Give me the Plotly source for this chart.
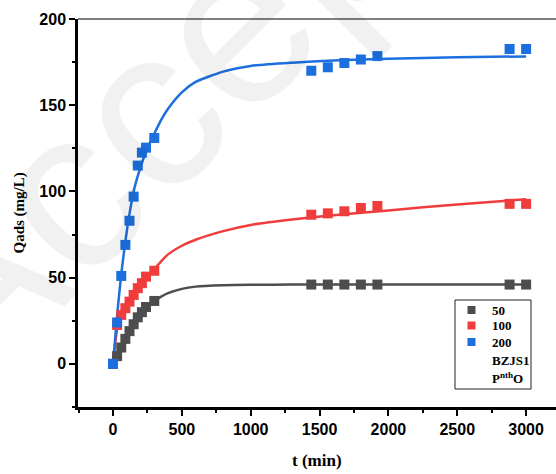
import plotly.graph_objects as go

# ---- data ----
t_points = [0, 30, 60, 90, 120, 150, 180, 210, 240, 300, 1440, 1560, 1680, 1800, 1920, 2880, 3000]
q50 = [0, 4.5, 9.5, 14.5, 19, 23, 27, 30, 33, 36.5, 46, 46, 46, 46, 46, 46, 46]
q100 = [0, 22.6, 28.4, 32.3, 36.1, 40, 43.9, 46.8, 50.6, 54, 86.5, 87.3, 88.5, 90.4, 91.6, 92.8, 92.8]
q200 = [0, 24, 51, 69, 83, 97, 115, 122.5, 125.4, 131, 170, 172, 174.5, 176.5, 178.5, 182.6, 182.6]

# fitted curves
t_fit = [0, 30, 60, 90, 120, 150, 180, 210, 240, 270, 300, 350, 400, 500, 600, 800, 1000, 1300, 1600, 2000, 2500, 3000]
fit50 = [0, 6, 11, 16, 20, 24, 27, 30, 32.5, 34.7, 36.5, 39, 41, 43.5, 44.8, 45.6, 45.9, 46, 46, 46, 46, 46]
fit100 = [0, 20, 27.5, 32, 36.5, 40.5, 44, 47, 50, 52.6, 55, 59.5, 63.5, 68.5, 72, 77, 80.6, 83.7, 86.2, 89, 92.5, 95.5]
fit200 = [0, 28, 52, 71, 87, 100, 109, 116.5, 123, 128.5, 133.5, 141.5, 148, 157.5, 163.5, 169.5, 172.8, 174.7, 176, 177, 177.8, 178.3]

series_names = ["50", "100", "200"]
extra_legend = ["BZJS1", "P<sup>nth</sup>O"]
colors = ["#4d4d4d", "#f03c3c", "#1c6fde"]

x_range = [-254, 3217]
y_range = [-25, 200]

fig = go.Figure()

# fit lines
for fit, c in zip([fit50, fit100, fit200], colors):
    fig.add_trace(go.Scatter(x=t_fit, y=fit, mode="lines",
                             line=dict(color=c, width=2.5, shape="spline", smoothing=0.6),
                             showlegend=False, hoverinfo="skip"))

# data markers
for q, c, n in zip([q50, q100, q200], colors, series_names):
    fig.add_trace(go.Scatter(x=t_points, y=q, mode="markers", name=n, showlegend=False,
                             marker=dict(symbol="square", size=10, color=c)))

tickfont = dict(family="Liberation Sans, Arial", size=16, color="black", weight="bold")
titlefont_y = dict(family="Liberation Serif, Times New Roman", size=15, color="black", weight="bold")
titlefont_x = dict(family="Liberation Serif, Times New Roman", size=17, color="black", weight="bold")
legfont = dict(family="Liberation Serif, Times New Roman", size=13, color="black", weight="bold")

W, H = 556, 474
ML, MR, MT, MB = 78, 0, 19, 67
PW, PH = W - ML - MR, H - MT - MB

def px2paper(px, py):
    return (px - ML) / PW, (H - MB - py) / PH

fig.update_layout(
    width=W, height=H,
    margin=dict(l=ML, r=MR, t=MT, b=MB),
    plot_bgcolor="white", paper_bgcolor="white",
    showlegend=False,
    xaxis=dict(range=x_range, showgrid=False, zeroline=False, automargin=False,
               showline=True, linecolor="black", linewidth=2.5,
               ticks="outside", ticklen=6, tickwidth=2, tickcolor="black",
               tick0=0, dtick=500, tickfont=tickfont, ticklabelstandoff=0,
               minor=dict(ticks="outside", ticklen=3, tickwidth=2, tickcolor="black", dtick=250, tick0=0)),
    yaxis=dict(range=y_range, showgrid=False, zeroline=False, automargin=False,
               showline=True, linecolor="black", linewidth=2.5,
               ticks="outside", ticklen=6, tickwidth=2, tickcolor="black",
               tick0=0, dtick=50, tickfont=tickfont,
               minor=dict(ticks="outside", ticklen=3, tickwidth=2, tickcolor="black", dtick=25, tick0=0)),
)

# axis titles
xt, yt = px2paper(317, 460)
fig.add_annotation(text="t (min)", xref="paper", yref="paper", x=0.5, y=yt,
                   xanchor="center", yanchor="middle", showarrow=False, font=titlefont_x)
xt, yt = px2paper(18.5, 213)
fig.add_annotation(text="Qads (mg/L)", xref="paper", yref="paper", x=xt, y=0.5,
                   xanchor="center", yanchor="middle", showarrow=False, textangle=-90, font=titlefont_y)

# thin top frame line
fig.add_shape(type="line", xref="paper", yref="paper", x0=0, x1=1, y0=1, y1=1,
              line=dict(color="black", width=1))

# manual legend
bx0, by0 = px2paper(455, 300)
bx1, by1 = px2paper(531, 389)
fig.add_shape(type="rect", xref="paper", yref="paper", x0=bx0, x1=bx1, y0=by1, y1=by0,
              line=dict(color="#222", width=1), fillcolor="white")
leg_names = series_names + extra_legend
leg_colors = colors + [None, None]
rows_py = [310, 325.5, 342, 360, 378]
for name, c, py in zip(leg_names, leg_colors, rows_py):
    if c is not None:
        sx0, sy0 = px2paper(467.5, py - 4)
        sx1, sy1 = px2paper(475.5, py + 4)
        fig.add_shape(type="rect", xref="paper", yref="paper", x0=sx0, x1=sx1, y0=sy1, y1=sy0,
                      line=dict(width=0), fillcolor=c)
    tx, ty = px2paper(490, py)
    fig.add_annotation(text=name, xref="paper", yref="paper", x=tx, y=ty,
                       xanchor="left", yanchor="middle", showarrow=False, font=legfont)

# faint watermark
fig.add_annotation(text="Accepted", xref="paper", yref="paper", x=0.37, y=1.04,
                   xanchor="center", yanchor="middle", showarrow=False, textangle=-45,
                   font=dict(family="Liberation Sans, Arial", size=230, color="rgba(0,0,0,0.055)"))

fig.write_html("out.html", config={"displayModeBar": False},
               post_script="document.body.style.margin='0';document.body.style.padding='0';")
